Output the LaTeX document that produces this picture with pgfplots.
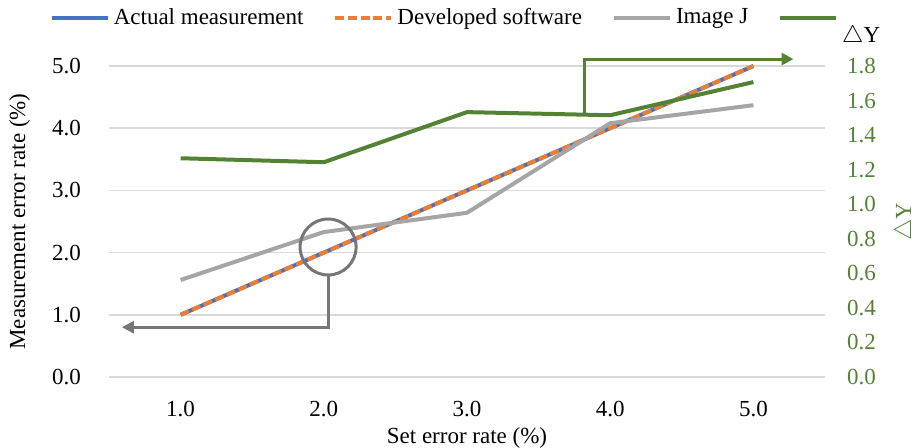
\documentclass[border=0pt]{standalone}
\usepackage{fontspec}
\setmainfont{Liberation Serif}
\usepackage{pgfplots}
\pgfplotsset{compat=1.18}
\usetikzlibrary{arrows.meta}
\definecolor{cblue}{HTML}{4472C4}
\definecolor{corange}{HTML}{ED7D31}
\definecolor{cgray}{HTML}{A5A5A5}
\definecolor{cgreen}{HTML}{548235}
\definecolor{cgrid}{HTML}{D9D9D9}
\definecolor{cdark}{HTML}{767676}
\begin{document}
\fontsize{11.5}{13.8}\selectfont
\begin{tikzpicture}
\useasboundingbox (-54.5pt,-35.5pt) rectangle (405pt,188.5pt);
\begin{axis}[
  at={(0,0)}, anchor=south west,
  scale only axis, width=358pt, height=155.5pt,
  xmin=0.5, xmax=5.5, ymin=0, ymax=5,
  xtick={1,2,3,4,5},
  xticklabels={1.0,2.0,3.0,4.0,5.0},
  ytick={0,1,2,3,4,5},
  yticklabel={\pgfmathprintnumber[fixed,fixed zerofill,precision=1]{\tick}},
  /pgf/number format/assume math mode=true,
  major tick length=0pt,
  axis line style={draw=none},
  ymajorgrids, grid style={cgrid, line width=0.8pt},
  yticklabel style={xshift=-10pt},
  xticklabel style={yshift=-8pt},
  ticklabel style={font=\fontsize{11.5}{13.8}\selectfont},
  xlabel={Set error rate (\%)},
  xlabel style={at={(axis description cs:0.5,0)}, anchor=center, yshift=-30.5pt},
  ylabel={Measurement error rate (\%)},
  ylabel style={at={(axis description cs:-0.125,0.5)}, anchor=center},
  clip=false,
  legend columns=4,
  legend style={draw=none, fill=none, at={(axis description cs:0.5,1)}, anchor=center, yshift=24pt,
    font=\fontsize{11.5}{13.8}\selectfont,
    /tikz/every even column/.append style={column sep=13pt}},
  legend image code/.code={\draw[#1] (0pt,0pt) -- (28pt,0pt);},
]
\addplot[cblue, line width=2pt] coordinates {(1,1) (2,2) (3,3) (4,4) (5,5)};
\addlegendentry{Actual measurement}
\addplot[corange, line width=2pt, dash pattern=on 4.5pt off 1.8pt] coordinates {(1,1) (2,2) (3,3) (4,4) (5,5)};
\addlegendentry{Developed software}
\addplot[cgray, line width=2pt] coordinates {(1,1.56) (2,2.33) (3,2.64) (4,4.08) (5,4.37)};
\addlegendentry{Image J}
\addlegendimage{cgreen, line width=2pt}
\addlegendentry{\raisebox{-13pt}[0pt][0pt]{$\triangle$Y}}
\draw[cdark, line width=1.5pt] (axis cs:2.03,2.09) circle[radius=14pt];
\draw[cdark, line width=1.5pt, -{Triangle[length=6pt,width=6pt]}] ([yshift=-14pt]axis cs:2.03,2.09) |- (axis cs:0.59,0.80);
\end{axis}
\begin{axis}[
  at={(0,0)}, anchor=south west,
  scale only axis, width=358pt, height=155.5pt,
  xmin=0.5, xmax=5.5, ymin=0, ymax=1.8,
  axis x line=none,
  axis y line*=right,
  axis line style={draw=none},
  ytick={0,0.2,0.4,0.6,0.8,1.0,1.2,1.4,1.6,1.8},
  yticklabel={\pgfmathprintnumber[fixed,fixed zerofill,precision=1]{\tick}},
  /pgf/number format/assume math mode=true,
  major tick length=0pt,
  yticklabel style={xshift=7pt, text=cgreen, font=\fontsize{11.5}{13.8}\selectfont},
  ylabel={$\triangle$Y},
  ylabel style={at={(axis description cs:1.112,0.5)}, anchor=center, text=cgreen, rotate=0, inner sep=0pt},
  clip=false,
]
\addplot[cgreen, line width=2pt] coordinates {(1,1.266) (2,1.243) (3,1.533) (4,1.515) (5,1.707)};
\draw[cgreen, line width=1.5pt, -{Triangle[length=6pt,width=6pt]}] (axis cs:3.82,1.515) |- (axis cs:5.28,1.84);
\end{axis}
\end{tikzpicture}
\end{document}
